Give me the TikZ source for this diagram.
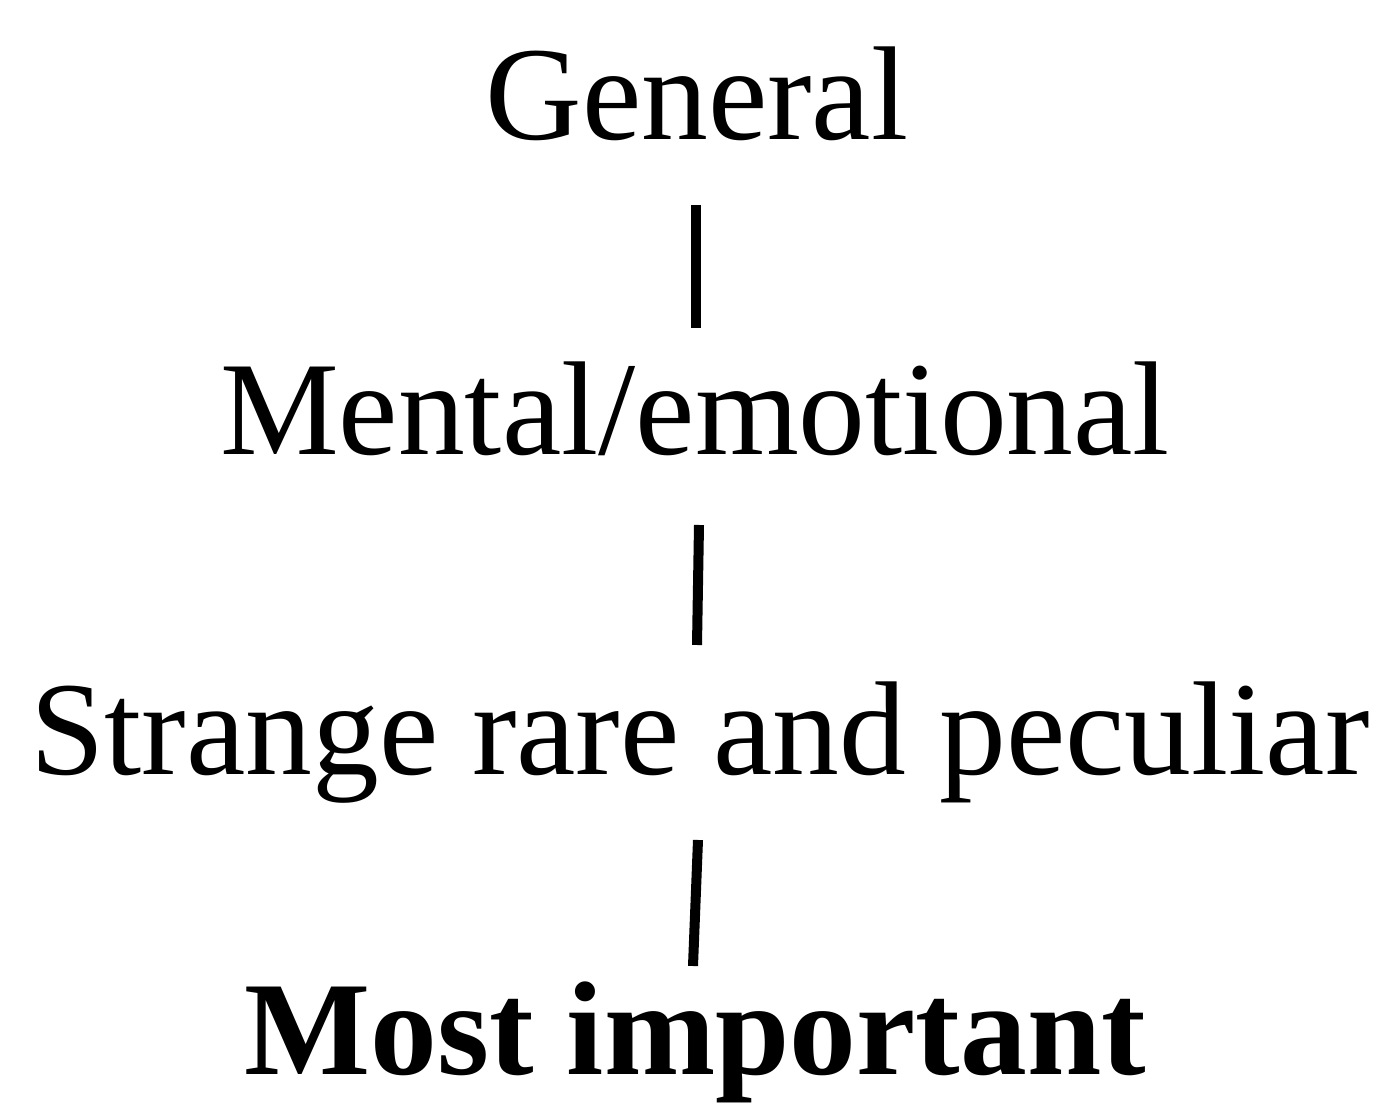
\documentclass[tikz,border=0pt]{standalone}
\usepackage{fontspec}
\setmainfont{Liberation Serif}
\begin{document}
\begin{tikzpicture}[x=0.5pt,y=-0.5pt,
  lbl/.style={inner sep=0pt,anchor=base,font=\fontsize{66.8}{70}\selectfont},
  conn/.style={line width=5pt,line cap=butt}]
\useasboundingbox (0,0) rectangle (1383,1111);
\node[lbl] (general) at (697,140) {General};
\node[lbl] (mental) at (695,455) {Mental/emotional};
\node[lbl] (strange) at (700,775) {Strange rare and peculiar};
\node[lbl,font=\fontsize{66.8}{70}\selectfont\bfseries] (most) at (695,1075) {Most important};
\coordinate (a1) at (696,205);
\coordinate (b1) at (696,328);
\coordinate (a2) at (699,525);
\coordinate (b2) at (697,645);
\coordinate (a3) at (698,840);
\coordinate (b3) at (693,966);
\draw[conn] (a1) -- (b1);
\draw[conn] (a2) -- (b2);
\draw[conn] (a3) -- (b3);
\end{tikzpicture}
\end{document}
